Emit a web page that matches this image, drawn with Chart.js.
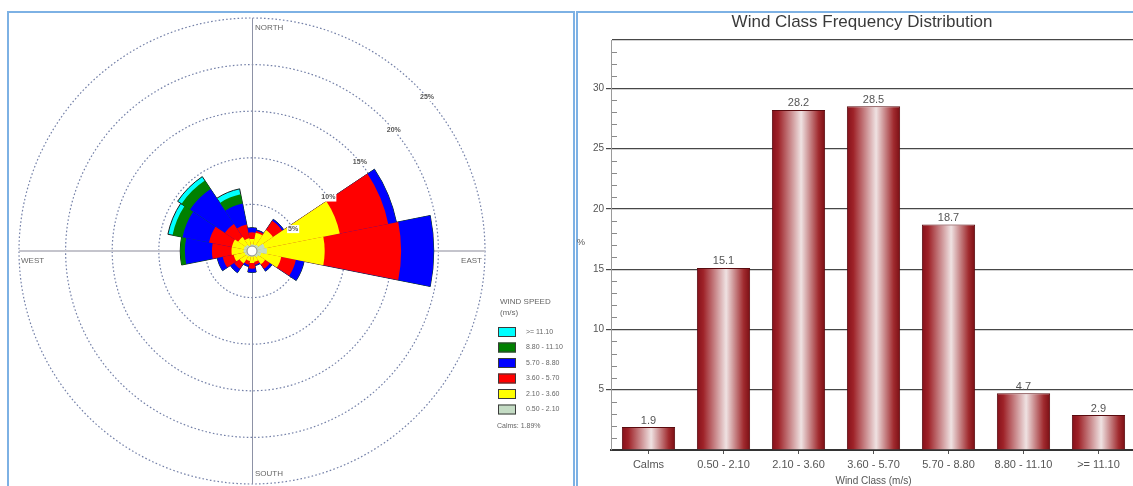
<!DOCTYPE html>
<html>
<head>
<meta charset="utf-8">
<script src="https://cdn.jsdelivr.net/npm/chart.js@4/dist/chart.umd.min.js"></script>
<style>
  html, body { margin: 0; padding: 0; background: #fff; overflow: hidden; width: 1133px; height: 486px; }
  .frame { position: absolute; box-sizing: border-box; border: 2px solid #7db1e4; }
  #roseFrame { left: 7px; top: 11px; width: 568px; height: 490px; }
  #barFrame { left: 576px; top: 11px; width: 600px; height: 490px; border-right: none; }
  #roseWrap { position: absolute; left: 0; top: 0; width: 575px; height: 486px; }
  #barWrap { position: absolute; left: 577px; top: 12px; width: 556px; height: 474px; overflow: hidden; }
  canvas { display: block; }
</style>
</head>
<body>
<div class="frame" id="roseFrame"></div>
<div class="frame" id="barFrame"></div>
<div id="roseWrap"><canvas id="rose" width="575" height="486"></canvas></div>
<div id="barWrap"><canvas id="bars" width="563" height="474"></canvas></div>
<script>
// ---- Wind rose: frequency (%) per direction for each speed class ----
const directions = ['N', 'NNE', 'NE', 'ENE', 'E', 'ESE', 'SE', 'SSE', 'S', 'SSW', 'SW', 'WSW', 'W', 'WNW', 'NW', 'NNW'];
const speedClasses = ['0.50 - 2.10', '2.10 - 3.60', '3.60 - 5.70', '5.70 - 8.80', '8.80 - 11.10', '>= 11.10'];
const freq_050_210 = [0.7, 0.7, 0.8, 1.4, 1.6, 1.0, 0.8, 0.6, 0.6, 0.6, 0.7, 0.8, 0.9, 0.9, 0.8, 0.6];
const freq_210_360 = [0.6, 1.3, 1.9, 8.2, 6.2, 2.2, 0.9, 0.6, 0.7, 0.5, 0.9, 1.2, 1.3, 1.3, 1.0, 0.8];
const freq_360_570 = [0.7, 0.2, 1.2, 5.3, 8.2, 1.6, 0.6, 0.3, 0.6, 0.4, 0.7, 1.2, 2.1, 2.5, 1.7, 1.5];
const freq_570_880 = [0.5, 0.1, 0.2, 0.9, 3.5, 0.9, 0.3, 0.1, 0.4, 0.2, 0.5, 0.6, 2.9, 2.9, 4.5, 2.3];
const freq_880_1110 = [0, 0, 0, 0, 0, 0, 0, 0, 0, 0, 0, 0, 0.5, 1.1, 1.1, 1.0];
const freq_ge_1110 = [0, 0, 0, 0, 0, 0, 0, 0, 0, 0, 0, 0, 0, 0.5, 0.5, 0.6];
const ringTicks = [5, 10, 15, 20, 25];
const calmsPercent = 1.89;

// ---- Wind class frequency distribution ----
const windClasses = ['Calms', '0.50 - 2.10', '2.10 - 3.60', '3.60 - 5.70', '5.70 - 8.80', '8.80 - 11.10', '>= 11.10'];
const classFrequency = [1.9, 15.1, 28.2, 28.5, 18.7, 4.7, 2.9];
const yTickLabels = [5, 10, 15, 20, 25, 30];

const FONT = '"Liberation Sans", Arial, sans-serif';

// ================= Wind rose =================
const classColors = ['#c4dcc4', '#ffff00', '#ff0000', '#0000ff', '#008000', '#00ffff'];
const classSeries = [freq_050_210, freq_210_360, freq_360_570, freq_570_880, freq_880_1110, freq_ge_1110];

// stack the classes outward: each ring is drawn from the centre to its running total
const stacked = [];
let running = directions.map(() => 0);
classSeries.forEach(series => {
  running = running.map((v, i) => Math.round((v + series[i]) * 100) / 100);
  stacked.push(running);
});

const roseDatasets = stacked.map((values, k) => ({
  label: speedClasses[k],
  data: values,
  backgroundColor: classColors[k],
  borderColor: '#1a1a1a',
  borderWidth: k === stacked.length - 1 ? 1 : 0
}));

const ringLabelBearing = { 5: 62, 10: 55, 15: 50.5, 20: 49.5, 25: 48.7 };

const roseDecor = {
  id: 'roseDecor',
  beforeDatasetsDraw(chart) {
    const s = chart.scales.r, ctx = chart.ctx;
    const R = s.drawingArea;
    ctx.save();
    ctx.strokeStyle = '#c4c4cc';
    ctx.lineWidth = 2;
    ctx.beginPath();
    ctx.moveTo(s.xCenter - R, s.yCenter);
    ctx.lineTo(s.xCenter + R, s.yCenter);
    ctx.stroke();
    ctx.strokeStyle = '#8d92a6';
    ctx.lineWidth = 1;
    ctx.beginPath();
    ctx.moveTo(s.xCenter + 0.5, s.yCenter - R);
    ctx.lineTo(s.xCenter + 0.5, s.yCenter + R);
    ctx.stroke();
    ctx.restore();
  },
  afterDatasetsDraw(chart) {
    const s = chart.scales.r, ctx = chart.ctx;
    const R = s.drawingArea;
    ctx.save();
    // calm circle
    ctx.beginPath();
    ctx.arc(s.xCenter, s.yCenter, 5, 0, Math.PI * 2);
    ctx.fillStyle = '#fff';
    ctx.fill();
    ctx.strokeStyle = '#8a8a8a';
    ctx.lineWidth = 1;
    ctx.stroke();

    // compass words
    ctx.fillStyle = '#666';
    ctx.font = '8px ' + FONT;
    ctx.textBaseline = 'middle';
    ctx.textAlign = 'left';
    ctx.fillText('NORTH', s.xCenter + 3, s.yCenter - R + 10);
    ctx.fillText('SOUTH', s.xCenter + 3, s.yCenter + R - 10);
    ctx.fillText('WEST', s.xCenter - R + 2, s.yCenter + 10);
    ctx.textAlign = 'right';
    ctx.fillText('EAST', s.xCenter + R - 3, s.yCenter + 10);

    // ring percentages
    ctx.font = 'bold 7px ' + FONT;
    ctx.textAlign = 'center';
    ringTicks.forEach(v => {
      const b = ringLabelBearing[v] * Math.PI / 180;
      const r = s.getDistanceFromCenterForValue(v);
      const x = s.xCenter + r * Math.sin(b);
      const y = s.yCenter - r * Math.cos(b);
      const t = v + '%';
      const w = ctx.measureText(t).width;
      ctx.fillStyle = '#fff';
      ctx.fillRect(x - w / 2 - 1, y - 4, w + 2, 8);
      ctx.fillStyle = '#555';
      ctx.fillText(t, x, y);
    });

    // speed legend
    const lx = 498, ly = 302;
    ctx.textAlign = 'left';
    ctx.font = '8px ' + FONT;
    ctx.fillStyle = '#666';
    ctx.fillText('WIND SPEED', lx + 2, ly);
    ctx.fillText('(m/s)', lx + 2, ly + 11);
    ctx.font = '7px ' + FONT;
    const order = chart.data.datasets.map((d, i) => i).reverse();
    order.forEach((k, row) => {
      const ds = chart.data.datasets[k];
      const by = 327 + row * 15.5;
      ctx.fillStyle = ds.backgroundColor;
      ctx.fillRect(lx, by, 18, 10);
      ctx.strokeStyle = '#3a3a3a';
      ctx.lineWidth = 1;
      ctx.strokeRect(lx + 0.5, by + 0.5, 17, 9);
      ctx.fillStyle = '#666';
      ctx.fillText(ds.label, lx + 28, by + 5);
    });
    ctx.fillText('Calms: ' + calmsPercent.toFixed(2) + '%', lx - 1, 426);
    ctx.restore();
  }
};

new Chart(document.getElementById('rose'), {
  type: 'polarArea',
  data: { labels: directions, datasets: roseDatasets },
  options: {
    responsive: false,
    animation: false,
    layout: { padding: { left: 19, top: 18, right: 90, bottom: 2 } },
    plugins: { legend: { display: false }, tooltip: { enabled: false } },
    scales: {
      r: {
        min: 0,
        max: 25,
        startAngle: -11.25,
        ticks: { display: false, stepSize: 5 },
        grid: { circular: true, color: '#7480a8', lineWidth: 1.2 },
        border: { dash: [1.6, 2.2] },
        angleLines: { display: false },
        pointLabels: { display: false }
      }
    }
  },
  plugins: [roseDecor]
});

// ================= Frequency distribution bars =================
const BAR_SHARE = 0.71;
function barFill(c) {
  const chart = c.chart, xs = chart.scales && chart.scales.x;
  if (!xs || !chart.chartArea || c.dataIndex === undefined) return '#9b1c20';
  const cx = xs.getPixelForValue(c.dataIndex);
  const half = xs.width / windClasses.length * BAR_SHARE / 2;
  const g = chart.ctx.createLinearGradient(cx - half, 0, cx + half, 0);
  g.addColorStop(0, '#86101a');
  g.addColorStop(0.12, '#9e2228');
  g.addColorStop(0.55, '#efe2e2');
  g.addColorStop(0.88, '#a02a2e');
  g.addColorStop(1, '#7a0e13');
  return g;
}

const barDecor = {
  id: 'barDecor',
  afterDatasetsDraw(chart) {
    const ctx = chart.ctx, meta = chart.getDatasetMeta(0);
    const ys = chart.scales.y, area = chart.chartArea;
    ctx.save();
    // minor ticks on the inside of the value axis
    ctx.strokeStyle = '#8a8a8a';
    ctx.lineWidth = 1;
    ctx.beginPath();
    ys.ticks.forEach(t => {
      if (t.value % 5 !== 0 && t.value < ys.max) {
        const y = Math.round(ys.getPixelForValue(t.value)) + 0.5;
        ctx.moveTo(area.left + 1, y);
        ctx.lineTo(area.left + 6, y);
      }
    });
    ctx.stroke();
    // value labels above the bars
    ctx.fillStyle = '#555';
    ctx.font = '11px ' + FONT;
    ctx.textAlign = 'center';
    ctx.textBaseline = 'bottom';
    meta.data.forEach((bar, i) => {
      ctx.fillText(classFrequency[i].toFixed(1), bar.x, bar.y - 1);
    });
    ctx.restore();
  },
  afterDraw(chart) {
    const ctx = chart.ctx, area = chart.chartArea;
    ctx.save();
    ctx.fillStyle = '#3a3a3a';
    ctx.font = '17px ' + FONT;
    ctx.textAlign = 'center';
    ctx.textBaseline = 'middle';
    ctx.fillText('Wind Class Frequency Distribution', 285, 10);
    ctx.fillStyle = '#555';
    ctx.font = '10px ' + FONT;
    ctx.fillText('Wind Class (m/s)', (area.left + area.right) / 2, 469);
    ctx.font = '9px ' + FONT;
    ctx.fillText('%', 4, 231);
    ctx.restore();
  }
};

new Chart(document.getElementById('bars'), {
  type: 'bar',
  data: {
    labels: windClasses,
    datasets: [{
      data: classFrequency,
      backgroundColor: barFill,
      borderColor: '#5a0b0f',
      borderWidth: 1,
      barPercentage: 1,
      categoryPercentage: BAR_SHARE
    }]
  },
  options: {
    responsive: false,
    animation: false,
    layout: { padding: { left: 0, top: 28, right: 4, bottom: 0 } },
    plugins: { legend: { display: false }, tooltip: { enabled: false } },
    scales: {
      x: {
        grid: { display: true, drawOnChartArea: false, offset: false, tickLength: 4, color: '#555' },
        border: { color: '#333', width: 2 },
        ticks: { color: '#555', font: { family: FONT, size: 11 }, padding: 4, maxRotation: 0, autoSkip: false },
        afterFit(s) { s.height = 36; }
      },
      y: {
        min: 0,
        max: 34,
        ticks: {
          stepSize: 1,
          maxTicksLimit: 60,
          autoSkip: false,
          color: '#555',
          font: { family: FONT, size: 10 },
          padding: 2,
          callback: v => (yTickLabels.includes(v) ? String(v) : '')
        },
        grid: {
          color: c => (c.tick && (yTickLabels.includes(c.tick.value) || c.tick.value === 34) ? '#474747' : 'rgba(0,0,0,0)'),
          tickColor: c => (c.tick && yTickLabels.includes(c.tick.value) ? '#474747' : 'rgba(0,0,0,0)'),
          tickLength: 5,
          lineWidth: 1.2
        },
        border: { color: '#9a9a9a', width: 1 },
        afterFit(s) { s.width = 34; }
      }
    }
  },
  plugins: [barDecor]
});
</script>
</body>
</html>
